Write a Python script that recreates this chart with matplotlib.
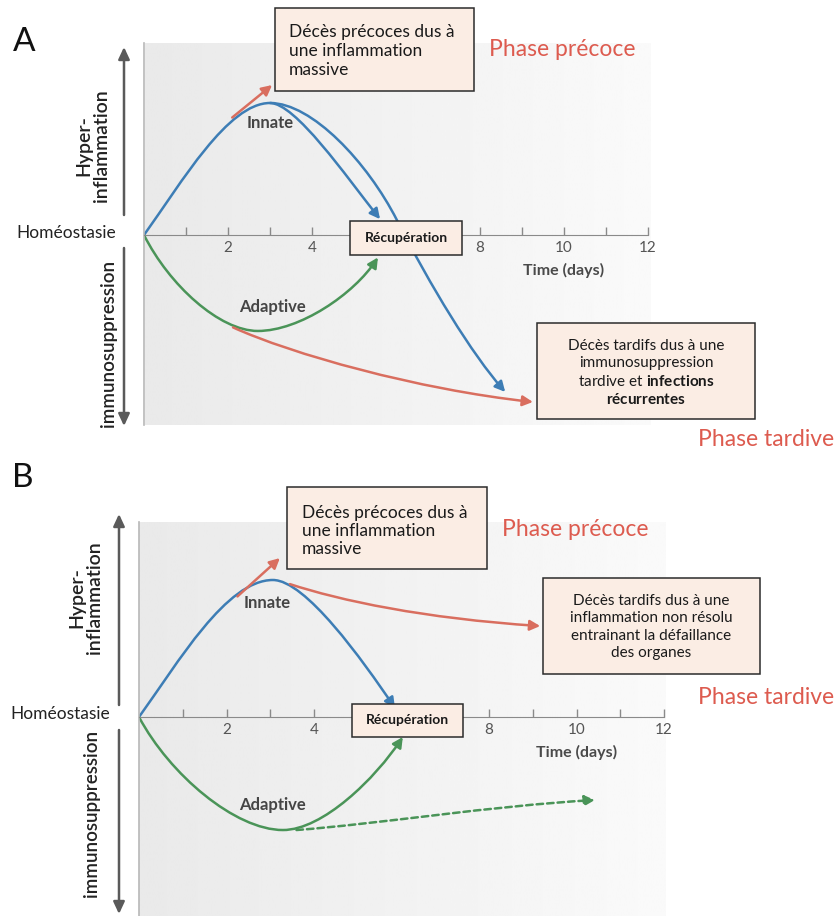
import numpy as np
import matplotlib
matplotlib.use('Agg')
import matplotlib.pyplot as plt
from matplotlib.path import Path
from matplotlib.patches import FancyArrowPatch, Rectangle

plt.rcParams['font.family'] = ['Lato', 'DejaVu Sans']
plt.rcParams['mathtext.fontset'] = 'custom'
plt.rcParams['mathtext.rm'] = 'Lato'
plt.rcParams['mathtext.bf'] = 'Lato:bold'

W, H = 838, 916

# axe du temps (jours)
tick_days = [1, 2, 3, 4, 5, 6, 7, 8, 9, 10, 11, 12]
tick_labels = ['', '2', '', '4', '', '', '', '8', '', '10', '', '12']

# courbes (jour, niveau) : points de controle de Bezier cubiques
# panneau A
innate_a = [(0, 0), (0.9, 0.4), (2.0, 1.0), (3.0, 1.0),
            (3.6, 1.0), (4.8, 0.45), (5.62, 0.12)]
innate_late_a = [(3.0, 1.0), (4.0, 1.0), (5.32, 0.55), (6.02, 0.114),
                 (6.82, -0.386), (7.8, -0.9), (8.6, -1.189)]
early_a = [(2.1, 0.89), (3.05, 1.136)]
adaptive_a = [(0, 0), (0.6, -0.38), (1.8, -0.727), (2.71, -0.727),
              (3.7, -0.727), (5.0, -0.45), (5.57, -0.17)]
late_a = [(2.12, -0.70), (3.5, -0.9), (6.5, -1.17), (9.26, -1.265)]

# panneau B
innate_b = [(0, 0), (0.9, 0.4), (2.0, 1.0), (3.06, 1.0),
            (3.8, 1.0), (5.1, 0.42), (5.85, 0.066)]
early_b = [(2.25, 0.88), (3.22, 1.16)]
late_b = [(3.45, 0.97), (4.6, 0.85), (6.5, 0.72), (9.17, 0.664)]
adaptive_b = [(0, 0), (0.7, -0.42), (2.2, -0.825), (3.29, -0.825),
              (4.2, -0.825), (5.4, -0.45), (6.03, -0.146)]
dashed_b = [(3.6, -0.825), (5.5, -0.78), (8.0, -0.65), (10.42, -0.606)]

BLUE = '#3d7db5'
GREEN = '#4a9458'
RED = '#d96e5f'
PHASE = '#dd5b4f'
BOX = '#fbede4'
LABEL = '#454545'

fig = plt.figure(figsize=(W / 100, H / 100), dpi=100)
fig.patch.set_facecolor('white')

ax_bg = fig.add_axes([0, 0, 1, 1], zorder=0)
ax_fg = fig.add_axes([0, 0, 1, 1], zorder=5)
for a in (ax_bg, ax_fg):
    a.set_xlim(0, W)
    a.set_ylim(H, 0)
    a.axis('off')
    a.patch.set_alpha(0)

# fonds gris degrades
grad = np.linspace(0.915, 0.98, 200)[None, :]
ax_bg.imshow(grad, cmap='gray', vmin=0, vmax=1, aspect='auto',
             extent=[145, 650, 425, 43])
ax_bg.imshow(grad, cmap='gray', vmin=0, vmax=1, aspect='auto',
             extent=[139, 665, 916, 522])


def panel_axes(x0, y0, px_day, px_lvl, top, bottom, xmax=12.1):
    ax = fig.add_axes([x0 / W, 1 - bottom / H, xmax * px_day / W, (bottom - top) / H],
                      zorder=2)
    ax.set_xlim(0, xmax)
    ax.set_ylim((y0 - bottom) / px_lvl, (y0 - top) / px_lvl)
    ax.patch.set_alpha(0)
    for s in ('top', 'right'):
        ax.spines[s].set_visible(False)
    ax.spines['left'].set_color('#b8b8b8')
    ax.spines['left'].set_linewidth(1.2)
    ax.spines['bottom'].set_position(('data', 0))
    ax.spines['bottom'].set_bounds(0, 12)
    ax.spines['bottom'].set_color('#8a8a8a')
    ax.set_yticks([])
    ax.set_xticks(tick_days)
    ax.set_xticklabels(tick_labels)
    ax.tick_params(axis='x', direction='in', length=6, width=1, color='#8a8a8a',
                   labelsize=11, labelcolor='#555555', pad=4)
    ax.annotate('Time (days)', xy=(10, 0), xytext=(0, -25.5), textcoords='offset points',
                ha='center', va='center', fontsize=11.5, fontweight='bold', color='#4a4a4a')
    return ax


def curve(ax, pts, color, ls='-', head=True):
    codes = [Path.MOVETO] + ([Path.CURVE4] * (len(pts) - 1) if len(pts) > 2 else [Path.LINETO])
    style = '-|>,head_length=0.55,head_width=0.28' if head else '-'
    ax.add_patch(FancyArrowPatch(path=Path(pts, codes), arrowstyle=style,
                                 mutation_scale=11, lw=1.8, color=color, linestyle=ls,
                                 capstyle='round'))


ax_a = panel_axes(144, 235, 42, 132, 43, 425)
ax_b = panel_axes(139, 717, 43.75, 137, 522, 916)

curve(ax_a, innate_late_a, BLUE)
curve(ax_a, innate_a, BLUE)
curve(ax_a, early_a, RED)
curve(ax_a, adaptive_a, GREEN)
curve(ax_a, late_a, RED)

curve(ax_b, innate_b, BLUE)
curve(ax_b, early_b, RED)
curve(ax_b, late_b, RED)
curve(ax_b, adaptive_b, GREEN)
curve(ax_b, dashed_b, GREEN, ls=(0, (2.6, 1.6)))

ax_a.text(3.0, 0.85, 'Innate', ha='center', va='center', fontsize=12,
          fontweight='bold', color=LABEL)
ax_a.text(3.07, -0.545, 'Adaptive', ha='center', va='center', fontsize=12,
          fontweight='bold', color=LABEL)
ax_b.text(2.93, 0.83, 'Innate', ha='center', va='center', fontsize=12,
          fontweight='bold', color=LABEL)
ax_b.text(3.06, -0.642, 'Adaptive', ha='center', va='center', fontsize=12,
          fontweight='bold', color=LABEL)


def vert_arrow(x, y_from, y_to):
    ax_fg.annotate('', xy=(x, y_to), xytext=(x, y_from),
                   arrowprops=dict(arrowstyle='-|>,head_length=0.6,head_width=0.28',
                                   lw=1.8, color='#5a5a5a', mutation_scale=12,
                                   shrinkA=0, shrinkB=0))


def box(x0, y0, x1, y1):
    ax_fg.add_patch(Rectangle((x0, y0), x1 - x0, y1 - y0, facecolor=BOX,
                              edgecolor='#2b2b2b', lw=1.1))


# panneau A
ax_fg.text(24, 42, 'A', ha='center', va='center', fontsize=24, color='#111111')
vert_arrow(124, 215, 47)
vert_arrow(124, 248, 426)
ax_fg.text(93, 146, 'Hyper-\ninflammation', rotation=90, ha='center', va='center',
           multialignment='center', fontsize=14, fontweight='semibold', color='#222222',
           linespacing=1.05)
ax_fg.text(108, 343, 'immunosuppression', rotation=90, ha='center', va='center',
           fontsize=13.5, fontweight='semibold', color='#222222')
ax_fg.text(116, 233, 'Homéostasie', ha='right', va='center', fontsize=12.5, color='#222222')

box(275, 8, 474, 91)
ax_fg.text(289, 51, 'Décès précoces dus à\nune inflammation\nmassive', ha='left', va='center',
           fontsize=12.5, color='#1a1a1a', linespacing=1.2)
ax_fg.text(562, 50, 'Phase précoce', ha='center', va='center', fontsize=16.5, color=PHASE)
box(350, 221, 462, 255)
ax_fg.text(406, 238, 'Récupération', ha='center', va='center', fontsize=10,
           fontweight='bold', color='#1a1a1a')
box(537, 323, 755, 419)
ax_fg.text(646, 373, 'Décès tardifs dus à une\nimmunosuppression\n'
           'tardive et $\\mathbf{infections}$\n$\\mathbf{récurrentes}$',
           ha='center', va='center', multialignment='center', fontsize=11,
           color='#1a1a1a', linespacing=1.3)
ax_fg.text(766, 440, 'Phase tardive', ha='center', va='center', fontsize=16.5, color=PHASE)

# panneau B
ax_fg.text(23, 478, 'B', ha='center', va='center', fontsize=24, color='#111111')
vert_arrow(119, 705, 514)
vert_arrow(119, 730, 914)
ax_fg.text(86, 598, 'Hyper-\ninflammation', rotation=90, ha='center', va='center',
           multialignment='center', fontsize=14, fontweight='semibold', color='#222222',
           linespacing=1.05)
ax_fg.text(91, 813, 'immunosuppression', rotation=90, ha='center', va='center',
           fontsize=13.5, fontweight='semibold', color='#222222')
ax_fg.text(110, 714, 'Homéostasie', ha='right', va='center', fontsize=12.5, color='#222222')

box(287, 487, 487, 569)
ax_fg.text(302, 531, 'Décès précoces dus à\nune inflammation\nmassive', ha='left', va='center',
           fontsize=12.5, color='#1a1a1a', linespacing=1.12)
ax_fg.text(575, 530, 'Phase précoce', ha='center', va='center', fontsize=16.5, color=PHASE)
box(352, 704, 463, 737)
ax_fg.text(407.5, 720.5, 'Récupération', ha='center', va='center', fontsize=10,
           fontweight='bold', color='#1a1a1a')
box(543, 578, 760, 674)
ax_fg.text(651, 627, 'Décès tardifs dus à une\ninflammation non résolu\n'
           'entrainant la défaillance\ndes organes',
           ha='center', va='center', multialignment='center', fontsize=11,
           color='#1a1a1a', linespacing=1.3)
ax_fg.text(766, 698, 'Phase tardive', ha='center', va='center', fontsize=16.5, color=PHASE)

fig.savefig('out.png', dpi=100, facecolor='white')
